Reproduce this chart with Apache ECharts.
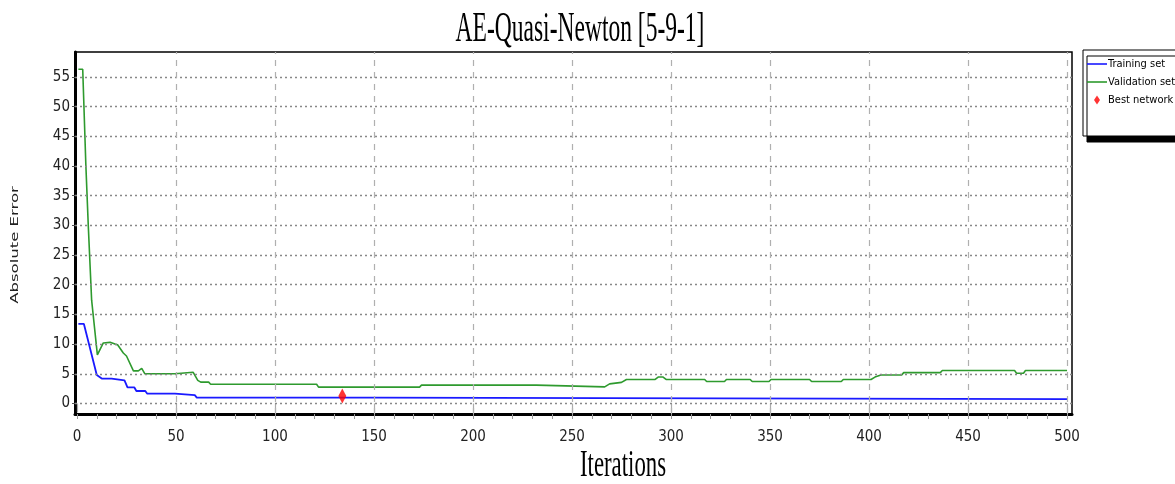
<!DOCTYPE html>
<html>
<head>
<meta charset="utf-8">
<script src="https://cdn.jsdelivr.net/npm/echarts@6/dist/echarts.min.js"></script>
<style>html,body{margin:0;padding:0;background:#fff;}#c{width:1175px;height:484px;}</style>
</head>
<body>
<div id="c"></div>
<script>
// ---- data ----
const trainX = [0.7, 3.5, 10, 12.5, 17.5, 18.5, 24, 25.5, 29, 30, 34.5, 35.5, 49.5, 50.5, 59.5, 60.5, 150.5, 151.5, 500];
const trainY = [13.4, 13.4, 4.8, 4.2, 4.2, 3.9, 3.9, 2.7, 2.7, 2.1, 2.1, 1.65, 1.65, 1.4, 1.4, 1.0, 1.0, 0.72, 0.72];
const validX = [0.7, 2.9, 4.5, 5.7, 7.4, 10.3, 13.3, 16.7, 19.2, 20.5, 23.4, 25, 28.5, 31, 32.7, 34.3, 49.5, 50.5, 58.7, 61, 62.5, 66.5, 67.5, 121, 122, 173, 174, 232, 233, 266.5, 269, 275, 277.5, 292, 293.5, 296, 297.5, 317, 318, 327, 328, 340, 341, 349.5, 350.5, 370, 371, 386, 387, 401, 403, 406, 416.5, 417.5, 436, 437, 473.5, 474.5, 478, 479, 500];
const validY = [56.3, 56.3, 40, 30, 17.4, 8.2, 10.2, 10.3, 10.0, 9.9, 8.5, 8.0, 5.5, 5.5, 5.9, 5.0, 5.0, 5.25, 5.25, 3.9, 3.6, 3.6, 3.25, 3.25, 2.75, 2.75, 3.1, 3.1, 2.8, 2.8, 3.3, 3.55, 4.05, 4.05, 4.45, 4.45, 4.05, 4.05, 3.7, 3.7, 4.05, 4.05, 3.7, 3.7, 4.05, 4.05, 3.7, 3.7, 4.05, 4.05, 4.45, 4.8, 4.8, 5.2, 5.2, 5.55, 5.55, 5.1, 5.1, 5.55, 5.55];
const bestX = [134];
const bestY = [1.25];
const yTickVals = [0, 5, 10, 15, 20, 25, 30, 35, 40, 45, 50, 55];
const xTickVals = [0, 50, 100, 150, 200, 250, 300, 350, 400, 450, 500];
const xMinorVals = [0,10,20,30,40,50,60,70,80,90,100,110,120,130,140,150,160,170,180,190,200,210,220,230,240,250,260,270,280,290,300,310,320,330,340,350,360,370,380,390,400,410,420,430,440,450,460,470,480,490,500];
const seriesNames = ['Training set', 'Validation set', 'Best network'];
const titleText = 'AE-Quasi-Newton [5-9-1]';
const xName = 'Iterations';
const yName = 'Absolute Error';

const zip = (xs, ys) => xs.map((x, i) => [x, ys[i]]);
const NARROW = "'Liberation Sans Narrow', 'DejaVu Sans Condensed', sans-serif";
const LINE_ICON = 'path://M0,0M20,12M0,5.2H20V6.8H0Z';
const DIAMOND_ICON = 'path://M0,0M20,12M10,1.5L13,6L10,10.5L7,6Z';

const chart = echarts.init(document.getElementById('c'), null, {renderer: 'canvas'});
chart.setOption({
  backgroundColor: '#fff',
  animation: false,
  grid: {left: 75, top: 52, width: 997, height: 362, show: true, borderColor: '#000', borderWidth: 1.5, backgroundColor: 'transparent'},
  legend: {
    data: [
      {name: seriesNames[0], icon: LINE_ICON},
      {name: seriesNames[1], icon: LINE_ICON},
      {name: seriesNames[2], icon: DIAMOND_ICON}
    ],
    orient: 'vertical', left: 1083, top: 50,
    padding: [8, 30, 30, 4],
    itemWidth: 20, itemHeight: 12, itemGap: 6,
    symbolKeepAspect: true,
    backgroundColor: '#fff', borderColor: '#000', borderWidth: 1,
    shadowColor: '#000', shadowOffsetX: 4, shadowOffsetY: 6, shadowBlur: 0,
    textStyle: {fontFamily: NARROW, fontSize: 11, color: '#000', padding: [0, 0, 0, -4]}
  },
  xAxis: [{
    type: 'value', min: -1, max: 502.5,
    axisLine: {show: true, onZero: false, lineStyle: {color: '#000', width: 3}},
    axisTick: {show: true, customValues: xMinorVals, length: 5, lineStyle: {color: '#999', width: 1}},
    axisLabel: {show: true, customValues: xTickVals, margin: 16, fontFamily: NARROW, fontSize: 15, color: '#222'},
    splitLine: {show: false}
  }, {
    type: 'value', min: -1, max: 502.5, position: 'bottom',
    axisLine: {show: false},
    axisTick: {show: true, customValues: xTickVals, length: 9, lineStyle: {color: '#aaa', width: 1.2}},
    axisLabel: {show: false},
    splitLine: {show: false}
  }],
  yAxis: {
    type: 'value', min: -1.77, max: 59.2,
    axisLine: {show: true, onZero: false, lineStyle: {color: '#000', width: 3}},
    axisTick: {show: true, customValues: yTickVals, length: 3, lineStyle: {color: '#555'}},
    axisLabel: {show: true, customValues: yTickVals, margin: 5, fontFamily: NARROW, fontSize: 15, color: '#222'},
    splitLine: {show: false}
  },
  graphic: [
    {type: 'text', x: 580, y: 30, scaleX: 0.56, style: {text: titleText, font: "42px 'Liberation Serif', 'Times New Roman', serif", fill: '#000', textAlign: 'center', textVerticalAlign: 'middle'}},
    {type: 'text', x: 623, y: 466, scaleX: 0.6, style: {text: xName, font: "38px 'Liberation Serif', 'Times New Roman', serif", fill: '#000', textAlign: 'center', textVerticalAlign: 'middle'}},
    {type: 'text', x: 15, y: 245, rotation: Math.PI / 2, scaleX: 1.65, style: {text: yName, font: "10px 'DejaVu Sans', sans-serif", fill: '#222', textAlign: 'center', textVerticalAlign: 'middle'}}
  ],
  series: [
    {
      name: 'grid', type: 'line', data: [[0, 0]], symbol: 'none', silent: true,
      lineStyle: {opacity: 0}, z: 1,
      markLine: {
        silent: true, symbol: ['none', 'none'], animation: false,
        label: {show: false},
        data: [].concat(
          yTickVals.map(v => ({yAxis: v, lineStyle: {color: '#888', type: [2, 3], width: 1.3}})),
          xTickVals.filter(v => v > 0).map(v => ({xAxis: v, lineStyle: {color: '#b0b0b0', type: [6, 6], width: 1.2}}))
        )
      }
    },
    {name: seriesNames[0], type: 'line', data: zip(trainX, trainY), symbol: 'none', lineStyle: {color: '#1a1aff', width: 1.8}, itemStyle: {color: '#1a1aff'}, z: 3},
    {name: seriesNames[1], type: 'line', data: zip(validX, validY), symbol: 'none', lineStyle: {color: '#2e9a2e', width: 1.6}, itemStyle: {color: '#2e9a2e'}, z: 3},
    {name: seriesNames[2], type: 'scatter', data: zip(bestX, bestY), symbol: 'diamond', symbolSize: [8, 15], itemStyle: {color: '#ff0000'}, z: 4}
  ]
});
</script>
</body>
</html>
